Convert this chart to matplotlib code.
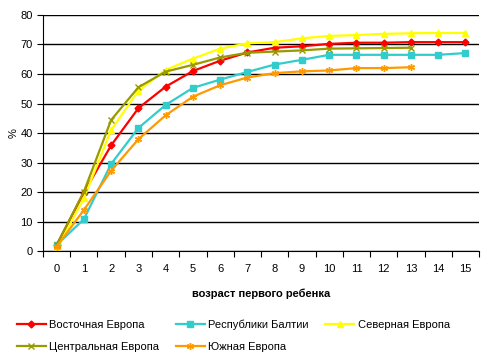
import matplotlib

matplotlib.use("Agg")
import matplotlib.pyplot as plt
import numpy as np

plt.rcParams["font.family"] = ["Liberation Sans", "DejaVu Sans"]

ages = list(range(16))
east = [2.0, 19.8, 35.8, 48.4, 55.7, 61.0, 64.5, 67.3, 68.9, 69.4, 70.2, 70.6, 70.6, 70.8, 70.8, 70.8]
baltic = [2.0, 10.8, 29.5, 41.7, 49.5, 55.3, 58.1, 60.7, 63.2, 64.8, 66.5, 66.5, 66.5, 66.5, 66.5, 67.1]
north = [0.6, 17.9, 41.0, 54.3, 61.4, 65.2, 68.6, 70.4, 70.8, 72.1, 72.9, 73.2, 73.6, 73.8, 73.9, 73.9]
central = [2.0, 20.1, 44.4, 55.5, 60.8, 63.1, 65.6, 67.2, 67.6, 68.0, 68.6, 68.7, 68.8, 68.9]
south = [1.5, 13.9, 27.2, 37.9, 46.0, 52.3, 56.2, 58.8, 60.3, 60.9, 61.2, 62.0, 62.0, 62.3]

fig = plt.figure(figsize=(4.84, 3.64), dpi=100)
ax = fig.add_axes([0.0888, 0.3104, 0.901, 0.6484])

lw = 1.6
l_east, = ax.plot(ages, east, color="#ff0000", marker="D", ms=3.5, lw=lw, label="Восточная Европа")
l_baltic, = ax.plot(ages, baltic, color="#33cccc", marker="s", ms=4.5, lw=lw, label="Республики Балтии")
l_north, = ax.plot(ages, north, color="#ffff00", marker="^", ms=5, lw=lw, label="Северная Европа")
l_central, = ax.plot(ages[:len(central)], central, color="#999900", marker="x", ms=4, mew=1,
                     lw=lw, label="Центральная Европа")
l_south, = ax.plot(ages[:len(south)], south, color="#ff9900", marker=(6, 2, 0), ms=5, mew=1,
                   lw=lw, label="Южная Европа")

ax.set_xlim(-0.5, 15.5)
ax.set_ylim(0, 80)
ax.set_yticks(np.arange(0, 81, 10))
ax.set_xticks(ages)
ax.set_xticks(np.arange(-0.5, 16, 1), minor=True)
ax.tick_params(axis="x", which="major", length=0, labelsize=8, pad=9)
ax.tick_params(axis="x", which="minor", length=4, direction="out", width=0.8)
ax.tick_params(axis="y", length=4, direction="out", width=0.8, labelsize=8)
ax.grid(axis="y", color="black", linewidth=1)
ax.set_axisbelow(True)
for side in ["top", "right"]:
    ax.spines[side].set_visible(False)
for side in ["left", "bottom"]:
    ax.spines[side].set_linewidth(0.8)

ax.set_ylabel("%", fontsize=8, labelpad=1)
ax.set_xlabel("возраст первого ребенка", fontsize=8, fontweight="bold", labelpad=11)

handles = [l_east, l_central, l_baltic, l_south, l_north]
fig.legend(handles, [h.get_label() for h in handles], ncol=3, loc="upper left",
           bbox_to_anchor=(0.026, 0.135), frameon=False, fontsize=8,
           handlelength=2.6, handletextpad=0.3, columnspacing=1.5, labelspacing=1.1,
           borderaxespad=0)

fig.savefig("out.png", dpi=100)
